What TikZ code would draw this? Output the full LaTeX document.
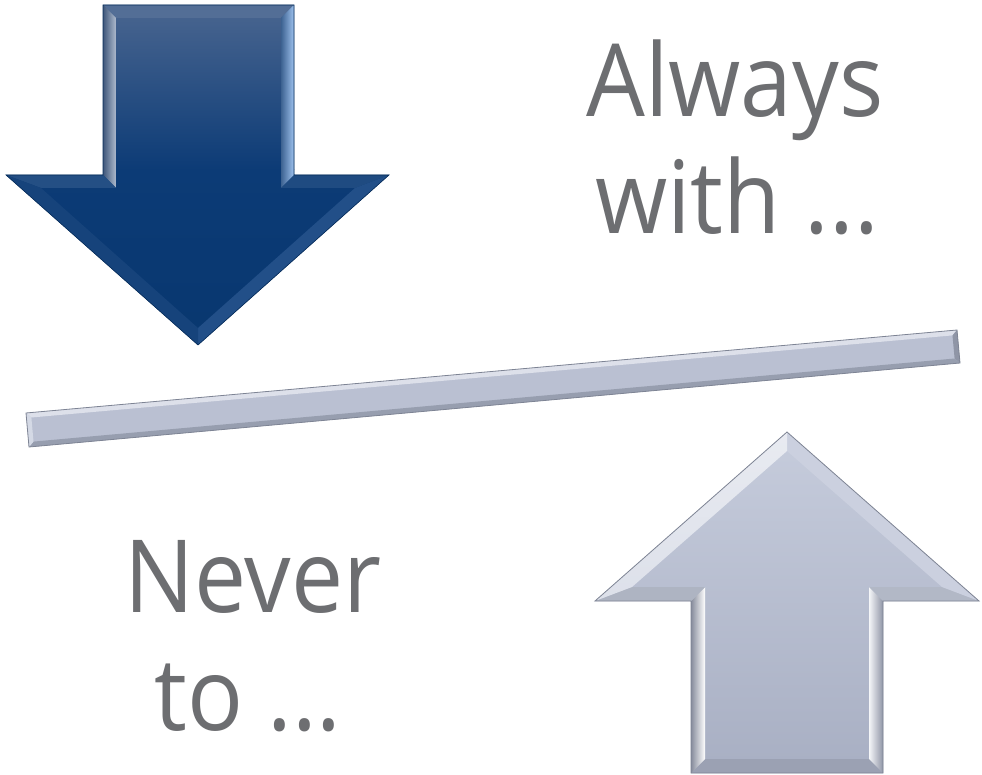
\documentclass[tikz,border=0pt]{standalone}
\usepackage{fontspec}
\setmainfont{Open Sans}
\newfontfamily\lblfont[FakeStretch=0.92]{Open Sans}
\definecolor{txt}{HTML}{6D6E71}
\definecolor{dkTop}{HTML}{4A6690}
\definecolor{dkMid}{HTML}{0C3B76}
\definecolor{dkBot}{HTML}{08376F}
\definecolor{dkHi}{HTML}{9EC2EE}
\definecolor{ltTop}{HTML}{C6CCDC}
\definecolor{ltMid}{HTML}{BAC0D2}
\definecolor{ltBot}{HTML}{A8AFC3}
\definecolor{ltEdge}{HTML}{7E8494}
\tikzset{
  label text/.style={text=txt, font=\lblfont\fontsize{101}{110}\selectfont, anchor=base, inner sep=0pt},
  facet/.style={draw=none},
}
\begin{document}
\begin{tikzpicture}[x=1pt,y=-1pt]
\useasboundingbox (0,0) rectangle (982,775);
\fill[white] (0,0) rectangle (982,775);

% ---------- dark down arrow ----------
\coordinate (a1) at (103,5);
\coordinate (a2) at (294,5);
\coordinate (a3) at (294,175);
\coordinate (a4) at (389,175);
\coordinate (a5) at (198,345);
\coordinate (a6) at (6,175);
\coordinate (a7) at (103,175);
\coordinate (b1) at (116,18);
\coordinate (b2) at (281,18);
\coordinate (b3) at (281,188);
\coordinate (b4) at (355,188);
\coordinate (b5) at (198,328);
\coordinate (b6) at (41,188);
\coordinate (b7) at (116,188);
\begin{scope}
\clip (a1)--(a2)--(a3)--(a4)--(a5)--(a6)--(a7)--cycle;
\shade[top color=dkTop, bottom color=dkMid] (0,4) rectangle (400,170);
\shade[top color=dkMid, bottom color=dkBot] (0,170) rectangle (400,350);
\end{scope}
\fill[color=dkTop!95!white] (a1)--(a2)--(b2)--(b1)--cycle;
\shade[facet, left color=dkMid!80!white, right color=dkHi] (a2)--(a3)--(b3)--(b2)--cycle;
\shade[facet, left color=dkTop!85!black, right color=dkTop!45!white] (a7)--(a1)--(b1)--(b7)--cycle;
\fill[color=dkMid!92!white] (a3)--(a4)--(b4)--(b3)--cycle;
\fill[color=dkMid!90!white] (a6)--(a7)--(b7)--(b6)--cycle;
\fill[color=dkMid!85!dkHi] (a4)--(a5)--(b5)--(b4)--cycle;
\fill[color=dkMid!96!white] (a5)--(a6)--(b6)--(b5)--cycle;
\draw[dkBot!80!black, line width=0.6pt, line join=miter]
  (a1)--(a2)--(a3)--(a4)--(a5)--(a6)--(a7)--cycle;

% ---------- light up arrow ----------
\coordinate (c1) at (691,773);
\coordinate (c2) at (883,773);
\coordinate (c3) at (883,601);
\coordinate (c4) at (979,601);
\coordinate (c5) at (787,432);
\coordinate (c6) at (595,601);
\coordinate (c7) at (691,601);
\coordinate (d1) at (705,759);
\coordinate (d2) at (869,759);
\coordinate (d3) at (869,587);
\coordinate (d4) at (942,587);
\coordinate (d5) at (787,451);
\coordinate (d6) at (632,587);
\coordinate (d7) at (705,587);
\shade[top color=ltTop, middle color=ltMid, bottom color=ltBot]
  (c1)--(c2)--(c3)--(c4)--(c5)--(c6)--(c7)--cycle;
\fill[color=ltBot!92!black] (c1)--(c2)--(d2)--(d1)--cycle;
\shade[facet, left color=white!85!ltMid, right color=ltBot!85!black] (c2)--(c3)--(d3)--(d2)--cycle;
\shade[facet, left color=ltBot!80!black, right color=white] (c7)--(c1)--(d1)--(d7)--cycle;
\fill[color=ltTop!90!black] (c3)--(c4)--(d4)--(d3)--cycle;
\fill[color=ltTop!88!black] (c6)--(c7)--(d7)--(d6)--cycle;
\fill[color=ltTop!92!white] (c4)--(c5)--(d5)--(d4)--cycle;
\shade[facet, top color=ltTop!40!white, bottom color=ltTop!60!white] (c5)--(c6)--(d6)--(d5)--cycle;
\draw[ltEdge, line width=0.8pt, line join=miter]
  (c1)--(c2)--(c3)--(c4)--(c5)--(c6)--(c7)--cycle;

% ---------- tilted bar ----------
\coordinate (e1) at (26,413);
\coordinate (e2) at (957,330);
\coordinate (e3) at (960,363);
\coordinate (e4) at (29,447);
\coordinate (f1) at (31.4,417.5);
\coordinate (f2) at (952.5,335.4);
\coordinate (f3) at (954.6,358.5);
\coordinate (f4) at (33.5,441.6);
\fill[ltMid] (e1)--(e2)--(e3)--(e4)--cycle;
\fill[ltTop!60!white] (e1)--(e2)--(f2)--(f1)--cycle;
\fill[ltBot!85!black] (e2)--(e3)--(f3)--(f2)--cycle;
\fill[ltBot!90!black] (e3)--(e4)--(f4)--(f3)--cycle;
\fill[ltTop!75!white] (e4)--(e1)--(f1)--(f4)--cycle;
\draw[ltEdge, line width=0.8pt, line join=miter] (e1)--(e2)--(e3)--(e4)--cycle;

% ---------- texts ----------
\node[label text] (always) at (735,117) {Always};
\node[label text] (with) at (737,234) {with ...};
\node[label text] (never) at (253,612) {Never};
\node[label text] (to) at (248,730) {to ...};
\end{tikzpicture}
\end{document}
